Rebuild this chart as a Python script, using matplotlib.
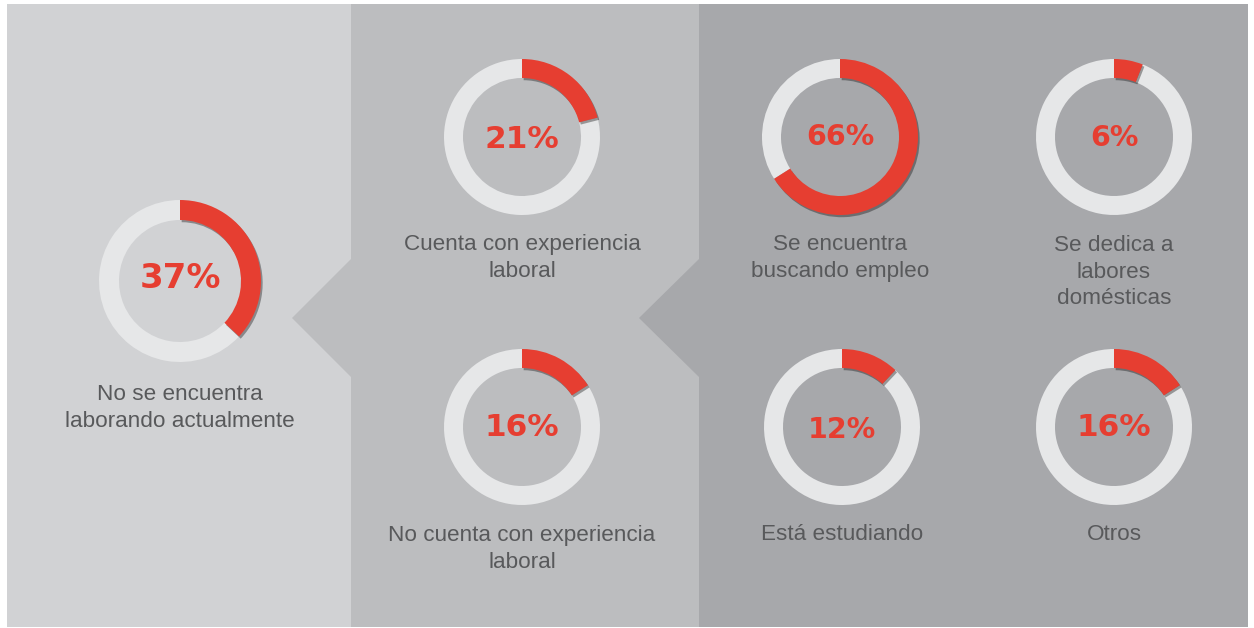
import matplotlib
matplotlib.use("Agg")
import matplotlib.pyplot as plt
import matplotlib.patheffects as pe
from matplotlib.patches import Polygon, Rectangle

# --- data -------------------------------------------------------------
labels = [
    "No se encuentra\nlaborando actualmente",
    "Cuenta con experiencia\nlaboral",
    "No cuenta con experiencia\nlaboral",
    "Se encuentra\nbuscando empleo",
    "Se dedica a\nlabores\ndomésticas",
    "Está estudiando",
    "Otros",
]
values = [37, 21, 16, 66, 6, 12, 16]

# --- layout (pixel space, origin bottom-left) -------------------------
W, H = 1254, 628
centers = [(180, 281), (522, 137), (522, 427), (840, 137), (1114, 137),
           (842, 427), (1114, 427)]
radii = [81, 78, 78, 78, 78, 78, 78]
ring_w = [20, 19, 19, 19, 19, 19, 19]
pct_size = [24.5, 22.5, 22.5, 20.5, 20.5, 20.5, 22.5]
pct_dy = [-3, 2, 0, 0, 1, 3, 0]
label_y = [408, 258, 549, 258, 272, 535, 535]

RED = "#e63e31"
TRACK = "#e6e7e8"
TEXT = "#58595b"
BG = ["#d1d2d4", "#bcbdbf", "#a7a8ab"]

fig = plt.figure(figsize=(W / 100, H / 100), dpi=100)
ax = fig.add_axes([0, 0, 1, 1])


def Y(y):
    return H - y


# background panels with the left-pointing chevrons
ax.add_patch(Rectangle((7, Y(627)), 344, 623, facecolor=BG[0], lw=0, zorder=0))
ax.add_patch(Polygon([(351, Y(4)), (699, Y(4)), (699, Y(627)), (351, Y(627)),
                      (351, Y(377)), (292, Y(318)), (351, Y(259))],
                     closed=True, facecolor=BG[1], lw=0, zorder=0))
ax.add_patch(Polygon([(699, Y(4)), (1248, Y(4)), (1248, Y(627)), (699, Y(627)),
                      (699, Y(377)), (639, Y(318)), (699, Y(259))],
                     closed=True, facecolor=BG[2], lw=0, zorder=0))

shadow = [pe.SimplePatchShadow(offset=(1.2, -1.6), shadow_rgbFace="black",
                               alpha=0.35), pe.Normal()]

for lab, v, (cx, cy), r, w, fs, dy, ly in zip(labels, values, centers, radii,
                                              ring_w, pct_size, pct_dy, label_y):
    wedges, _ = ax.pie([v, 100 - v], colors=[RED, TRACK], startangle=90,
                       counterclock=False, radius=r, center=(cx, Y(cy)),
                       wedgeprops=dict(width=w, linewidth=0), frame=True)
    wedges[0].set_zorder(3)
    wedges[0].set_path_effects(shadow)
    wedges[1].set_zorder(2)
    ax.text(cx, Y(cy + dy), f"{v}%", color=RED, fontsize=fs,
            fontweight="bold", family="DejaVu Sans", ha="center",
            va="center", zorder=4)
    ax.text(cx, Y(ly), lab, color=TEXT, fontsize=16.2,
            family="Liberation Sans", ha="center", va="center",
            linespacing=1.33, zorder=4)

ax.set_xlim(0, W)
ax.set_ylim(0, H)
ax.set_aspect("auto")
ax.axis("off")
fig.savefig("out.png", dpi=100, facecolor="white")
